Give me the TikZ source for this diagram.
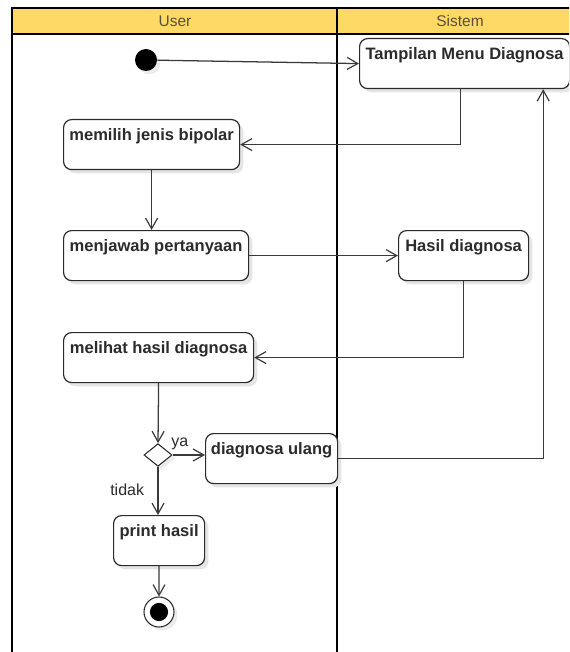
\documentclass[tikz,border=0pt]{standalone}
\usepackage{fontspec}
\setmainfont{Liberation Sans}
\usetikzlibrary{arrows.meta,shapes.geometric,shadows}

\definecolor{laneyellow}{HTML}{FFD966}
\definecolor{headtext}{HTML}{5A4F37}
\definecolor{ink}{HTML}{2B2B2B}
\definecolor{wire}{HTML}{3A3A3A}

\tikzset{
  act/.style={draw=ink, line width=0.9pt, rounded corners=6pt, fill=white,
    anchor=north west, inner xsep=0pt, inner ysep=0pt,
    text height=15.75pt, text depth=21.75pt, text=ink,
    font=\fontsize{12.4pt}{14pt}\selectfont\bfseries,
    drop shadow={shadow xshift=2.8pt, shadow yshift=-2.8pt, fill=black!10, opacity=1}},
  flow/.style={draw=wire, line width=0.95pt,
    -{Straight Barb[length=8pt,width=9pt,line width=0.9pt]}},
  lane/.style={draw=black, line width=1.6pt},
  guard/.style={text=ink, font=\fontsize{12pt}{14pt}\selectfont, inner sep=0pt, anchor=base west},
  lanehead/.style={text=headtext, font=\fontsize{11.6pt}{14pt}\selectfont, inner sep=0pt}
}

\begin{document}
\begin{tikzpicture}[x=0.75pt, y=-0.75pt]
\useasboundingbox (0,0) rectangle (569,652);
\clip (0,0) rectangle (569,652);

% swimlanes
\fill[laneyellow] (12,8) rectangle (600,34);
\draw[lane] (12,700) -- (12,8) -- (600,8);
\draw[lane] (12,34) -- (600,34);
\draw[lane] (337,8) -- (337,700);
\node[lanehead] (userhead) at (175,21) {User};
\node[lanehead] (sysheadl) at (460,21) {Sistem};

% start node
\node[circle, fill=black, minimum size=16.5pt, inner sep=0pt,
  drop shadow={shadow xshift=2.5pt, shadow yshift=-2.5pt, fill=black!8, opacity=1}] (start) at (146,60) {};

% actions
\node[act, minimum width=157.5pt] (tmd) at (359,38) {Tampilan Menu Diagnosa};
\node[act, minimum width=132pt] (mjb) at (63,119) {memilih jenis bipolar};
\node[act, minimum width=138.75pt] (mpt) at (63,230) {menjawab pertanyaan};
\node[act, minimum width=97.5pt] (hsl) at (398,230) {Hasil diagnosa};
\node[act, minimum width=142.5pt] (mhd) at (63,332) {melihat hasil diagnosa};
\node[act, minimum width=99pt] (dul) at (205,433) {diagnosa ulang};
\node[act, minimum width=68.25pt] (prt) at (113,515) {print hasil};

% decision
\node[diamond, draw=ink, line width=0.8pt, fill=white, inner sep=0pt,
  minimum width=21pt, minimum height=17pt,
  drop shadow={shadow xshift=2.5pt, shadow yshift=-2.5pt, fill=black!8, opacity=1}] (dia) at (158,455) {};

% final node
\node[circle, draw=ink, line width=0.8pt, fill=white, minimum size=22.5pt, inner sep=0pt,
  drop shadow={shadow xshift=2.5pt, shadow yshift=-2.5pt, fill=black!8, opacity=1}] (final) at (159,612) {};
\fill[black] (final.center) circle (6.8pt);

% flows
\draw[flow] (start) -- (tmd.west);
\draw[flow] ([xshift=-3pt]tmd.south) |- (mjb.east);
\draw[flow] (mjb.south) -- (mjb.south |- mpt.north);
\draw[flow] (mpt.east) -- (hsl.west);
\draw[flow] (hsl.south) |- (mhd.east);
\draw[flow] (mhd.south) -- (dia.north);
\draw[flow] (dia.east) -- (dia.east -| dul.west);
\draw[flow] (dia.south) -- (dia.south |- prt.north);
\draw[flow] (prt.south) -- (final.north);
\draw[flow] (dul.east) -| ([xshift=-20.25pt]tmd.south east);

% guards
\node[guard] (yalbl) at (171,446) {ya};
\node[guard] (tidaklbl) at (110,495) {tidak};
\end{tikzpicture}
\end{document}
